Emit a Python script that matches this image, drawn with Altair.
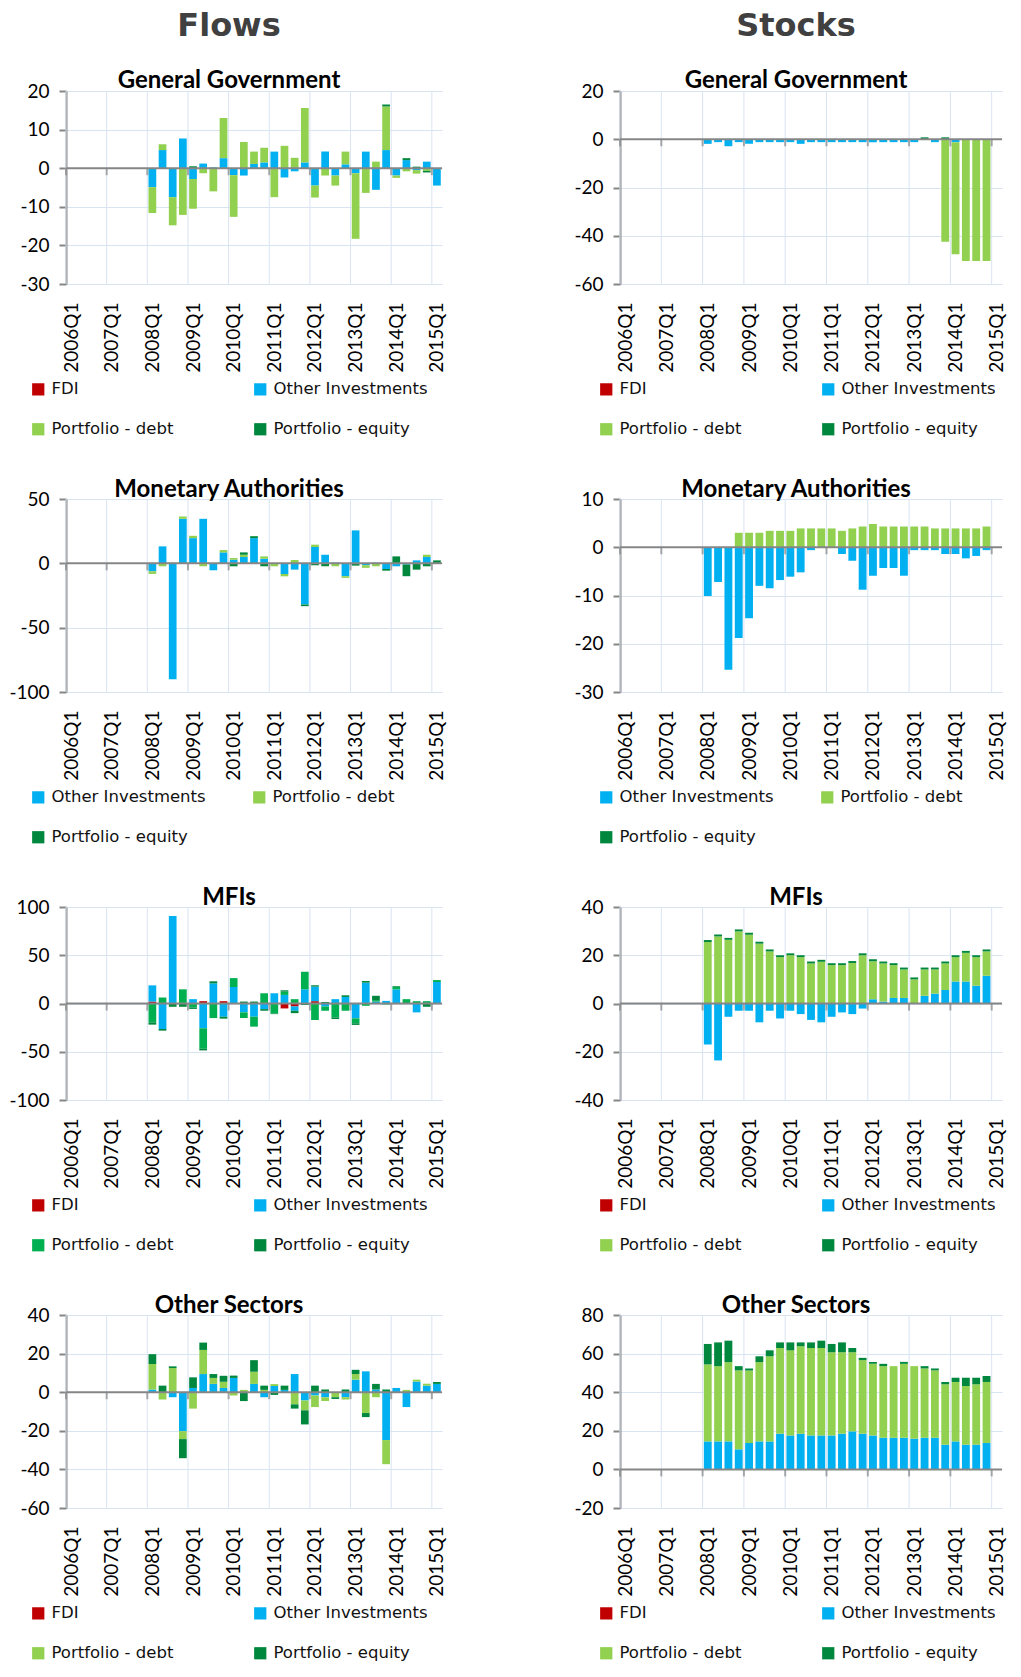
import altair as alt
import pandas as pd

# ---------------- data ----------------
TICK_LABELS = ["2006Q1", "2007Q1", "2008Q1", "2009Q1", "2010Q1",
               "2011Q1", "2012Q1", "2013Q1", "2014Q1", "2015Q1"]
N_QUARTERS = 37          # 2006Q1 .. 2015Q1
FIRST_BAR = 8            # 2008Q1

# --- Flows: General Government (2008Q1..2015Q1)
GG_F_OI = [-4.9, 4.7, -7.5, 7.7, -2.8, 1.2, 0.2, 2.6, -1.8, -1.9, 1.1, 1.5, 4.3, -2.4, -0.8,
           1.5, -4.5, 4.3, -1.9, 1.0, -1.3, 4.3, -5.6, 4.7, -1.9, 2.1, -0.5, 1.7, -4.5]
GG_F_DEBT = [-6.7, 1.5, -7.3, -12.1, -7.7, -1.3, -6.0, 10.4, -10.8, 6.8, 3.2, 3.8, -7.5, 5.8, 2.7,
             14.1, -3.1, -1.9, -2.6, 3.3, -17.0, -6.4, 1.7, 11.3, -0.6, -0.8, -0.9, -0.7, 0]
GG_F_EQ = [0, 0, 0, 0, 0.5, 0, 0, 0, 0, 0, 0, 0, 0, 0, 0,
           0, 0, 0, 0, 0, 0, 0, 0, 0.5, 0, 0.5, 0.4, -0.4, 0]
GG_F_FDI = [0] * 29

# --- Stocks: General Government (2008Q1..2014Q4)
GG_S_OI = [-1.9, -1.2, -2.9, -1.2, -1.9, -1.2, -1.2, -1.2, -1.2, -1.9, -1.2, -1.2, -1.2, -1.2,
           -1.2, -1.2, -1.2, -1.2, -1.2, -1.2, -1.2, 0, -1.2, 0, -1.2, 0, 0, 0]
GG_S_DEBT = [0] * 23 + [-42.5, -46.5, -50.5, -50.5, -50.5]
GG_S_EQ = [0] * 21 + [0.8, 0, 0.8, 0, 0, 0, 0]
GG_S_FDI = [0] * 28

# --- Flows: Monetary Authorities
MA_F_OI = [-6.2, 13.2, -90, 34.6, 19.6, 34.6, -5.4, 8.5, 2.8, 4.9, 19.6, 3.6, 0, -8.3, -4.9,
           -32, 12.7, 6.7, 0.5, -10, 25.6, -1.5, 0.5, -4.4, -2.3, -1.0, 2.3, 4.9, 0]
MA_F_DEBT = [-2, -2.3, 0.5, 1.8, 1.8, -2.3, 0, 1.8, 1.3, 1.8, 0, 1.8, -2.3, -1.8, 2.6,
             0, 1.8, 0, -2.3, -1.3, 0, -2.0, -2.3, 0, 0, 0, 0, 1.8, 0]
MA_F_EQ = [0, 0, 0, 0, 0, 0, 0, 0, -2.3, 1.8, 1.5, -2.3, 0, 0, 0,
           -1.3, -1.5, -2.3, 0, 0, -1.8, 0, 0, -1.3, 5.4, -9, -4.9, -2.3, 2.3]

# --- Stocks: Monetary Authorities
MA_S_OI = [-10.1, -7.2, -25.4, -18.8, -14.7, -8.0, -8.5, -6.8, -6.1, -5.2, -0.6, 0, 0, -1.4,
           -2.8, -8.8, -5.9, -4.3, -4.3, -5.9, -0.6, -0.6, -0.6, -1.4, -1.4, -2.3, -1.8, -0.6]
MA_S_DEBT = [0, 0, 0, 3.0, 3.0, 3.0, 3.4, 3.4, 3.4, 3.9, 3.9, 3.9, 3.9, 3.4,
             3.9, 4.3, 4.8, 4.3, 4.3, 4.3, 4.3, 4.3, 3.9, 3.9, 3.9, 3.9, 3.9, 4.3]
MA_S_EQ = [0] * 28

# --- Flows: MFIs
MFI_F_FDI = [2.0, 0, 0, 0, 0, 2.4, 0, 2.4, 0, 0, 0, 0, 0, -5.1, -3.0,
             0, 2.4, 0, 0, 0, 0, 0, 0, 0, 0, 0, 0, 0, 0]
MFI_F_OI = [16.8, -26.4, 90.7, 0, 4.5, -25.7, 20.9, -13.7, 17.1, -9.2, -13.7, -5.8, 10.6, 8.9, -4.5,
            14.7, 15.1, -3.0, 4.5, 6.8, -15.4, 21.6, 2.0, 2.7, 14.7, 0, -9.2, 0, 22.3]
MFI_F_DEBT = [-19.5, 6.2, 0, 14.7, -4.1, -21.2, -15.1, 0, 9.2, -5.8, -10.3, 10.6, -10.3, 3.4, 4.5,
              18.2, -17.1, -4.5, -14.4, -7.5, -5.1, -2.4, 1.5, -1.0, 2.4, 4.5, 2.4, 2.4, 2.0]
MFI_F_EQ = [-2.4, -1.7, -3.4, -3.4, -1.5, -1.7, 2.1, -2.0, 0, 2.0, 2.0, -1.7, -0.7, 1.4, -2.5,
            -1.5, 1.4, 1.5, -1.7, 1.7, -1.7, 1.7, 4.5, 0, 0.8, 0, 0, -3.4, 0]

# --- Stocks: MFIs
MFI_S_FDI = [0] * 28
MFI_S_OI = [-17.0, -23.6, -5.5, -3.0, -3.0, -7.8, -3.0, -6.2, -3.0, -4.4, -6.8, -7.8, -5.5, -3.7,
            -4.4, -2.1, 1.8, 0.8, 2.3, 2.3, 0, 3.2, 4.1, 5.6, 9.1, 9.1, 7.4, 11.5]
MFI_S_DEBT = [25.5, 27.8, 26.4, 29.9, 28.5, 24.8, 21.6, 19.2, 20.0, 19.2, 16.6, 17.3, 15.9, 15.9,
              16.8, 20.0, 15.7, 15.8, 13.6, 11.8, 10.0, 10.9, 10.0, 11.0, 10.1, 11.9, 11.8, 10.1]
MFI_S_EQ = [0.8] * 28

# --- Flows: Other Sectors
OS_F_FDI = [0] * 29
OS_F_OI = [1.4, 0, -2.6, -20.2, 2.2, 9.4, 4.3, 2.2, 7.4, 0, 4.3, -2.6, 3.2, 1.2, 9.4,
           -4.3, -1.7, -2.6, 0, -2.6, 6.5, 10.8, 1.4, -24.8, 2.2, -7.7, 5.5, 3.4, 4.3]
OS_F_DEBT = [13.2, -3.8, 12.5, -4.1, -8.5, 12.5, 3.1, 3.2, -1.7, 1.2, 6.3, 1.2, 1.0, 0, -6.3,
             -5.1, -6.0, -2.0, -2.6, -1.2, 2.9, -10.8, -2.6, -12.5, 0, 1.2, 1.0, 1.0, 0]
OS_F_EQ = [5.1, 3.4, 0.9, -9.9, 5.5, 3.8, 2.0, 3.1, 1.2, -4.6, 6.0, 2.2, -1.4, 2.2, -2.2,
           -7.3, 3.4, 1.4, -0.9, 1.4, 2.2, -2.1, 2.9, 1.4, 0, 0, 0, 0, 1.0]

# --- Stocks: Other Sectors
OS_S_FDI = [0] * 28
OS_S_OI = [14.5, 14.5, 14.5, 10.4, 13.7, 14.5, 14.5, 18.5, 17.6, 18.5, 17.6, 17.6, 17.6, 18.5,
           19.7, 18.5, 17.6, 16.4, 16.4, 16.4, 15.9, 16.4, 16.4, 12.8, 14.5, 12.8, 12.8, 13.7]
OS_S_DEBT = [39.9, 39.0, 41.1, 40.9, 37.6, 41.1, 44.1, 44.4, 44.1, 45.3, 45.3, 45.3, 43.1, 42.2,
             41.0, 38.1, 37.1, 37.1, 37.1, 38.3, 37.6, 35.9, 34.9, 31.3, 30.8, 30.4, 31.3, 31.6]
OS_S_EQ = [10.6, 12.3, 11.1, 2.2, 1.0, 3.0, 3.1, 2.9, 4.1, 2.0, 2.9, 3.8, 4.3, 5.1,
           2.2, 1.2, 1.0, 1.2, 0, 1.0, 0, 1.2, 1.0, 1.2, 2.2, 4.3, 3.4, 3.1]

# ---------------- style ----------------
C_FDI = "#C00000"
C_OI = "#00B0F0"
C_DEBT = "#92D050"
C_DEBT_MFI = "#00B050"
C_EQ = "#00873E"
GRID = "#D9E4F2"
AXIS_GRAY = "#868686"
FONT_AX = "Lato"
FONT_LEG = "DejaVu Sans"
FONT_TITLE = "Lato"
PLOT_H = 193
FLOW_W = 376
STOCK_W = 382

YEAR_POS = [i * 4 for i in range(len(TICK_LABELS))]
LABEL_POS = [p + 0.5 for p in YEAR_POS]
LABEL_EXPR = "[" + ",".join(repr(t) for t in TICK_LABELS) + "][floor(datum.value / 4)]"


def stack_frame(series):
    rows = []
    n = max(len(v) for v in series.values())
    for i in range(n):
        pos = 0.0
        neg = 0.0
        for name, vals in series.items():
            v = vals[i]
            if v == 0:
                continue
            if v > 0:
                y0, y1 = pos, pos + v
                pos = y1
            else:
                y0, y1 = neg, neg + v
                neg = y1
            q = FIRST_BAR + i
            rows.append({"q": q, "x0": q + 0.12, "x1": q + 0.88, "series": name,
                         "value": v, "y0": y0, "y1": y1})
    return pd.DataFrame(rows)


def panel(title, series, colors, y_values, width, legend_x, col_pad, dx, header=None):
    df = stack_frame(series)
    names = list(series.keys())
    xscale = alt.Scale(domain=[0, N_QUARTERS], nice=False, zero=False)
    yscale = alt.Scale(domain=[y_values[0], y_values[-1]], nice=False, zero=False)
    x_axis = alt.Axis(values=LABEL_POS, labelExpr=LABEL_EXPR, labelAngle=-90, grid=False,
                      ticks=False, domain=False, labelPadding=18, labelFont=FONT_AX,
                      labelFontSize=19, labelColor="#000000", labelOverlap=False,
                      labelFlush=False, title=None)
    y_axis = alt.Axis(values=y_values, labelExpr="'' + datum.value", title=None, grid=True,
                      gridColor=GRID, gridWidth=1, domainColor=AXIS_GRAY, domainWidth=2,
                      tickColor=AXIS_GRAY, tickWidth=2, tickSize=7, labelPadding=10,
                      labelFont=FONT_AX, labelFontSize=19, labelColor="#000000",
                      labelOverlap=False, labelFlush=False)
    years = pd.DataFrame({"pos": YEAR_POS, "zero": [0] * len(YEAR_POS)})
    zero = pd.DataFrame({"zero": [0]})

    vgrid = alt.Chart(years).mark_rule(color=GRID, strokeWidth=1).encode(
        x=alt.X("pos:Q", scale=xscale, axis=x_axis))
    bars = alt.Chart(df).mark_bar().encode(
        x=alt.X("x0:Q", scale=xscale, axis=x_axis),
        x2="x1:Q",
        y=alt.Y("y0:Q", scale=yscale, axis=y_axis),
        y2="y1:Q",
        color=alt.Color("series:N",
                        scale=alt.Scale(domain=names, range=colors),
                        legend=alt.Legend(orient="none", legendX=legend_x, legendY=290,
                                          columns=2, direction="horizontal", title=None,
                                          symbolType="square", symbolSize=150,
                                          symbolStrokeWidth=0, symbolOpacity=1,
                                          labelFont=FONT_LEG, labelFontSize=16.5,
                                          labelColor="#111111", labelOffset=5,
                                          columnPadding=col_pad, rowPadding=23, padding=0)),
    )
    zline = alt.Chart(zero).mark_rule(color=AXIS_GRAY, strokeWidth=2).encode(
        y=alt.Y("zero:Q", scale=yscale, axis=y_axis))
    ticks = alt.Chart(years).mark_tick(orient="vertical", color=AXIS_GRAY, thickness=2,
                                       size=7, yOffset=3.5).encode(
        x=alt.X("pos:Q", scale=xscale, axis=x_axis),
        y=alt.Y("zero:Q", scale=yscale, axis=y_axis))
    if header:
        t = alt.TitleParams(header, subtitle=title, font="DejaVu Sans", fontSize=32,
                            fontWeight="bold", color="#404040", subtitleFont=FONT_TITLE,
                            subtitleFontSize=24, subtitleFontWeight="bold",
                            subtitleColor="#000000", subtitlePadding=26, offset=-12,
                            anchor="middle", dx=dx)
    else:
        t = alt.TitleParams(title, font=FONT_TITLE, fontSize=24, fontWeight="bold",
                            color="#000000", offset=-12, anchor="middle", dx=dx)
    return alt.layer(vgrid, bars, zline, ticks).properties(width=width, height=PLOT_H, title=t)


def four(fdi, oi, debt, eq):
    return {"FDI": fdi, "Other Investments": oi, "Portfolio - debt": debt,
            "Portfolio - equity": eq}


def three(oi, debt, eq):
    return {"Other Investments": oi, "Portfolio - debt": debt, "Portfolio - equity": eq}


COL4 = [C_FDI, C_OI, C_DEBT, C_EQ]
COL4_MFI = [C_FDI, C_OI, C_DEBT_MFI, C_EQ]
COL3 = [C_OI, C_DEBT, C_EQ]

FLOW_LX, STOCK_LX = -36, -22
FLOW_DX, STOCK_DX = -25, -15

flows = [
    panel("General Government", four(GG_F_FDI, GG_F_OI, GG_F_DEBT, GG_F_EQ), COL4,
          [-30, -20, -10, 0, 10, 20], FLOW_W, FLOW_LX, 78, FLOW_DX, header="Flows"),
    panel("Monetary Authorities", three(MA_F_OI, MA_F_DEBT, MA_F_EQ), COL3,
          [-100, -50, 0, 50], FLOW_W, FLOW_LX, 45, FLOW_DX),
    panel("MFIs", four(MFI_F_FDI, MFI_F_OI, MFI_F_DEBT, MFI_F_EQ), COL4_MFI,
          [-100, -50, 0, 50, 100], FLOW_W, FLOW_LX, 78, FLOW_DX),
    panel("Other Sectors", four(OS_F_FDI, OS_F_OI, OS_F_DEBT, OS_F_EQ), COL4,
          [-60, -40, -20, 0, 20, 40], FLOW_W, FLOW_LX, 78, FLOW_DX),
]
stocks = [
    panel("General Government", four(GG_S_FDI, GG_S_OI, GG_S_DEBT, GG_S_EQ), COL4,
          [-60, -40, -20, 0, 20], STOCK_W, STOCK_LX, 78, STOCK_DX, header="Stocks"),
    panel("Monetary Authorities", three(MA_S_OI, MA_S_DEBT, MA_S_EQ), COL3,
          [-30, -20, -10, 0, 10], STOCK_W, STOCK_LX, 45, STOCK_DX),
    panel("MFIs", four(MFI_S_FDI, MFI_S_OI, MFI_S_DEBT, MFI_S_EQ), COL4,
          [-40, -20, 0, 20, 40], STOCK_W, STOCK_LX, 78, STOCK_DX),
    panel("Other Sectors", four(OS_S_FDI, OS_S_OI, OS_S_DEBT, OS_S_EQ), COL4,
          [-20, 0, 20, 40, 60, 80], STOCK_W, STOCK_LX, 78, STOCK_DX),
]

rows = [alt.hconcat(f, s, spacing=126).resolve_scale(color="independent")
        for f, s in zip(flows, stocks)]

chart = alt.vconcat(*rows, spacing=40).resolve_scale(
    color="independent"
).properties(
    padding={"left": 0, "top": 2, "right": 0, "bottom": 0}
).configure_view(strokeWidth=0)

chart.save("out.html", embed_options={"renderer": "svg", "actions": False})
